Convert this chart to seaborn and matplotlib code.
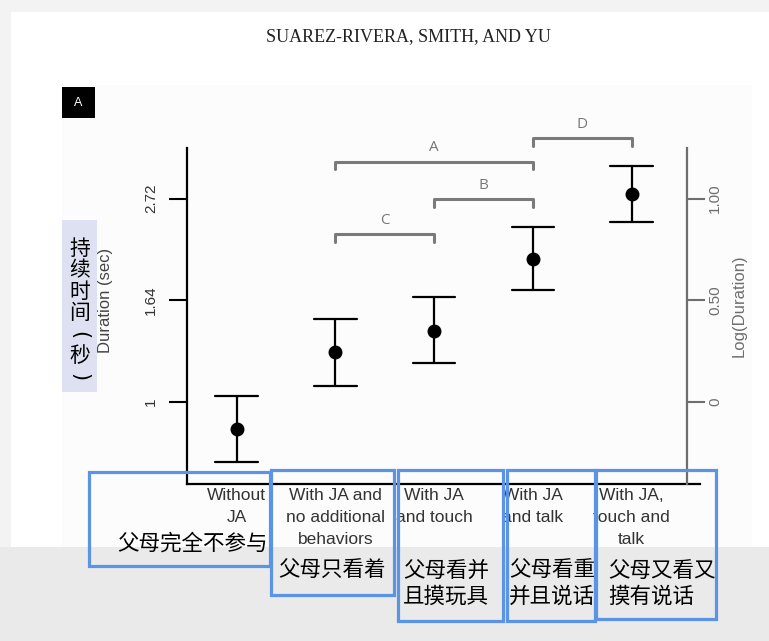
import numpy as np
import pandas as pd
import matplotlib.pyplot as plt
import matplotlib.patches as patches
import seaborn as sns

# conditions and log(duration) values
conditions = ['Without\nJA', 'With JA and\nno additional\nbehaviors', 'With JA\nand touch',
              'With JA\nand talk', 'With JA,\ntouch and\ntalk']
log_mean = [-0.136, 0.243, 0.350, 0.704, 1.023]
log_low = [-0.296, 0.077, 0.189, 0.552, 0.884]
log_high = [0.028, 0.406, 0.514, 0.859, 1.163]

# chinese notes under each condition
cn_labels = ['父母完全不参与', '父母只看着', '父母看并\n且摸玩具', '父母看重\n并且说话', '父母又看又\n摸有说话']
cn_ylabel = '持续时间(秒)'

# axis ticks
tick_pos = [0, 0.5, 1]
left_ticklabels = ['1', '1.64', '2.72']
right_ticklabels = ['0', '0.50', '1.00']

# significance brackets (from, to, letter)
bracket_pairs = [(1, 3), (2, 3), (1, 2), (3, 4)]
bracket_letters = ['A', 'B', 'C', 'D']

# long table: low / mean / high per condition -> median = mean, min/max = error bar
df = pd.DataFrame({
    'cond': np.repeat(conditions, 3),
    'val': np.column_stack([log_low, log_mean, log_high]).ravel(),
})

sns.set_style('white')
plt.rcParams['font.family'] = ['Liberation Sans', 'Noto Sans CJK SC', 'DejaVu Sans']

W, H = 769, 641
fig = plt.figure(figsize=(W / 100, H / 100), dpi=100)
fig.patch.set_facecolor('#f3f3f3')


def box(x0, y0, x1, y1):
    # pixel box (top-left origin) -> figure fraction
    return x0 / W, 1 - y1 / H, (x1 - x0) / W, (y1 - y0) / H


def add_rect(x0, y0, x1, y1, z, **kw):
    l, b, w, h = box(x0, y0, x1, y1)
    r = patches.Rectangle((l, b), w, h, transform=fig.transFigure, zorder=z, **kw)
    fig.add_artist(r)


# page background pieces
add_rect(11, 12, 769, 547, -10, facecolor='white', edgecolor='none')
add_rect(62, 85, 752, 547, -9, facecolor='#fcfcfc', edgecolor='none')
add_rect(0, 547, 769, 641, -8, facecolor='#eaeaea', edgecolor='none')

fig.text(408 / W, 1 - 37 / H, 'SUAREZ-RIVERA, SMITH, AND YU', family='Liberation Serif',
         fontsize=13, color='#222222', ha='center', va='center')
add_rect(62, 87, 95, 118, 2, facecolor='black', edgecolor='none')
fig.text(78.5 / W, 1 - 102.5 / H, 'A', color='white', fontsize=9, ha='center', va='center')

# main axes
ax = fig.add_axes(box(187.3, 148.3, 700, 483.5))
ax.patch.set_alpha(0)
sns.pointplot(data=df, x='cond', y='val', estimator='median',
              errorbar=lambda v: (v.min(), v.max()), capsize=0.43,
              color='black', linestyle='none', markersize=8,
              err_kws={'linewidth': 1.6}, ax=ax)
ax.set_xlim(-0.498, 4.691)
ax.set_ylim(-0.403, 1.248)
ax.set_xlabel('')
ax.set_ylabel('Duration (sec)', fontsize=12, color='#444444')
ax.yaxis.set_label_coords(-0.145, 0.547)
ax.set_yticks(tick_pos)
ax.set_yticklabels(left_ticklabels)
ax.tick_params(axis='y', left=True, length=13, width=1.5, color='black', pad=8,
               labelsize=11, labelcolor='#333333', labelrotation=90)
for t in ax.get_yticklabels():
    t.set_va('center')
ax.tick_params(axis='x', length=0, pad=3, labelsize=12.5, labelcolor='#333333')
for t in ax.get_xticklabels():
    t.set_linespacing(1.58)
    t.set_va('top')
for s in ['top', 'right']:
    ax.spines[s].set_visible(False)
for s in ['left', 'bottom']:
    ax.spines[s].set_color('black')
    ax.spines[s].set_linewidth(1.6)

# right log axis
ax2 = ax.twinx()
ax2.set_ylim(ax.get_ylim())
ax2.set_yticks(tick_pos)
ax2.set_yticklabels(right_ticklabels)
ax2.spines['right'].set_position(('data', 4.56))
ax2.spines['right'].set_color('#6e6e6e')
ax2.spines['right'].set_linewidth(1.6)
for s in ['top', 'left', 'bottom']:
    ax2.spines[s].set_visible(False)
ax2.tick_params(axis='y', right=True, length=13, width=1.5, color='#6e6e6e', pad=2,
                labelsize=11, labelcolor='#6e6e6e', labelrotation=90)
for t in ax2.get_yticklabels():
    t.set_va('center')
ax2.set_ylabel('Log(Duration)', fontsize=12, color='#6e6e6e')
ax2.yaxis.set_label_coords(1.062, 0.53)

# brackets
bracket_y = [1.182, 0.997, 0.825, 1.297]
for (a, b), letter, y in zip(bracket_pairs, bracket_letters, bracket_y):
    ax.plot([a, a, b, b], [y - 0.037, y, y, y - 0.037], color='#7a7a7a', lw=2.2,
            clip_on=False, solid_joinstyle='round')
    ax.text((a + b) / 2, y + 0.068, letter, color='#777777', fontsize=11,
            family='Open Sans', ha='center', va='center', clip_on=False)

# chinese vertical y label (round brackets turned for vertical writing)
add_rect(62, 220, 97, 392, 1, facecolor='#dde1f1', edgecolor='none')
for i, ch in enumerate(cn_ylabel):
    if ch in '()':
        fig.text(79.5 / W, 1 - (249 + 21.4 * i) / H, ch, family='DejaVu Sans',
                 fontsize=15, color='black', ha='center', va='center', rotation=-90,
                 zorder=3)
    else:
        fig.text(79.5 / W, 1 - (249 + 21.4 * i) / H, ch, family='Noto Sans CJK SC',
                 fontsize=15, color='black', ha='center', va='center', zorder=3)

# blue annotation boxes with chinese notes
cn_boxes = [(89, 472, 270, 566), (271, 470, 394, 595), (398, 470, 503, 621),
            (507, 470, 595, 621), (596, 470, 716, 619)]
cn_text_pos = [(117, 544), (278, 570), (403, 571), (509, 571), (608, 571)]
for (x0, y0, x1, y1), (tx, ty), lab in zip(cn_boxes, cn_text_pos, cn_labels):
    add_rect(x0, y0, x1, y1, 5, facecolor='none', edgecolor='#5b94e4', linewidth=2.3)
    for j, line in enumerate(lab.split('\n')):
        fig.text(tx / W, 1 - (ty + 25.5 * j) / H, line, family='Noto Sans CJK SC',
                 fontsize=15.5, color='black', ha='left', va='center', zorder=6)

fig.savefig('out.png', dpi=100)
